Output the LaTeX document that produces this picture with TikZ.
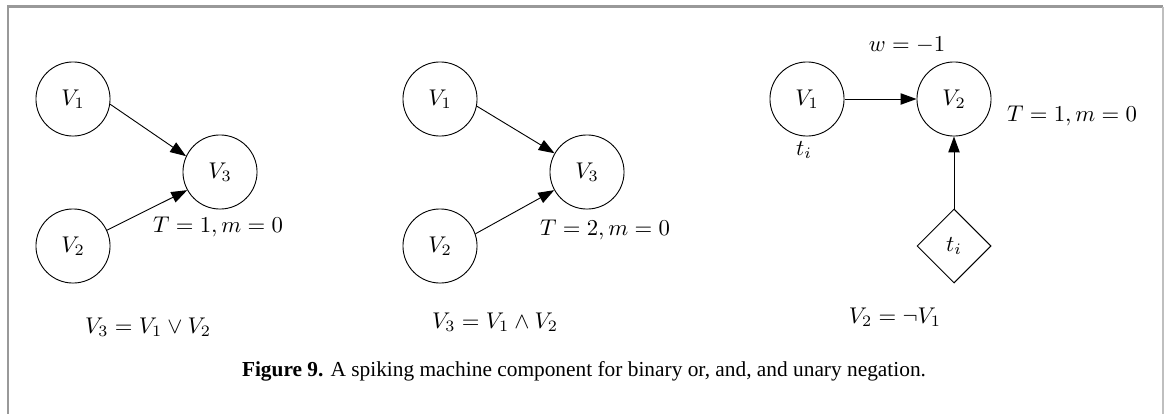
\documentclass[tikz,border=0pt]{standalone}
\usepackage{fontspec}
\newfontfamily\capfont{Liberation Serif}
\usetikzlibrary{shapes.geometric,arrows.meta}
\begin{document}
\begin{tikzpicture}[x=0.44pt,y=-0.44pt,
  neuron/.style={circle,draw,minimum size=32.6pt,inner sep=0pt},
  gen/.style={diamond,draw,minimum size=32.6pt,inner sep=0pt},
  syn/.style={-{Triangle[length=7pt,width=5pt]},line width=0.4pt},
  lbl/.style={inner sep=0pt}]
\useasboundingbox (0,0) rectangle (1170,414);
% frame
\draw[draw=black!40,line width=0.9pt] (8,440) -- (8,6.5) -- (1163,6.5);
\draw[draw=black!25,line width=0.9pt] (1163,6.5) -- (1163,440);
% panel 1: OR
\node[neuron] (a1) at (73,99) {$V_1$};
\node[neuron] (a2) at (73,246) {$V_2$};
\node[neuron] (a3) at (220,172) {$V_3$};
\draw[syn] (a1.-8) -- (a3.155);
\draw[syn] (a2.25) -- (a3.209);
\node[lbl] (aT) at (218,227) {$T=1,m=0$};
\node[lbl] (aE) at (148,327) {$V_3=V_1\vee V_2$};
% panel 2: AND
\node[neuron] (b1) at (440,99) {$V_1$};
\node[neuron] (b2) at (440,246) {$V_2$};
\node[neuron] (b3) at (587,172) {$V_3$};
\draw[syn] (b1.-11) -- (b3.150);
\draw[syn] (b2.19) -- (b3.209);
\node[lbl] (bT) at (605,230) {$T=2,m=0$};
\node[lbl] (bE) at (495,322) {$V_3=V_1\wedge V_2$};
% panel 3: NOT
\node[neuron] (c1) at (807,99) {$V_1$};
\node[neuron] (c2) at (954,99) {$V_2$};
\node[gen] (c3) at (954,246) {$t_i$};
\draw[syn] (c1.east) -- (c2.west);
\draw[syn] (c3.north) -- (c2.south);
\node[lbl] (cw) at (907,45) {$w=-1$};
\node[lbl] (cT) at (1072,116) {$T=1,m=0$};
\node[lbl] (ct) at (804,150) {$t_i$};
\node[lbl] (cE) at (895,317) {$V_2=\neg V_1$};
% caption
\node[lbl,anchor=base] (cap) at (584,376) {\capfont\fontsize{9.4}{11}\selectfont\textbf{Figure 9.} A spiking machine component for binary or, and, and unary negation.};
\end{tikzpicture}
\end{document}
